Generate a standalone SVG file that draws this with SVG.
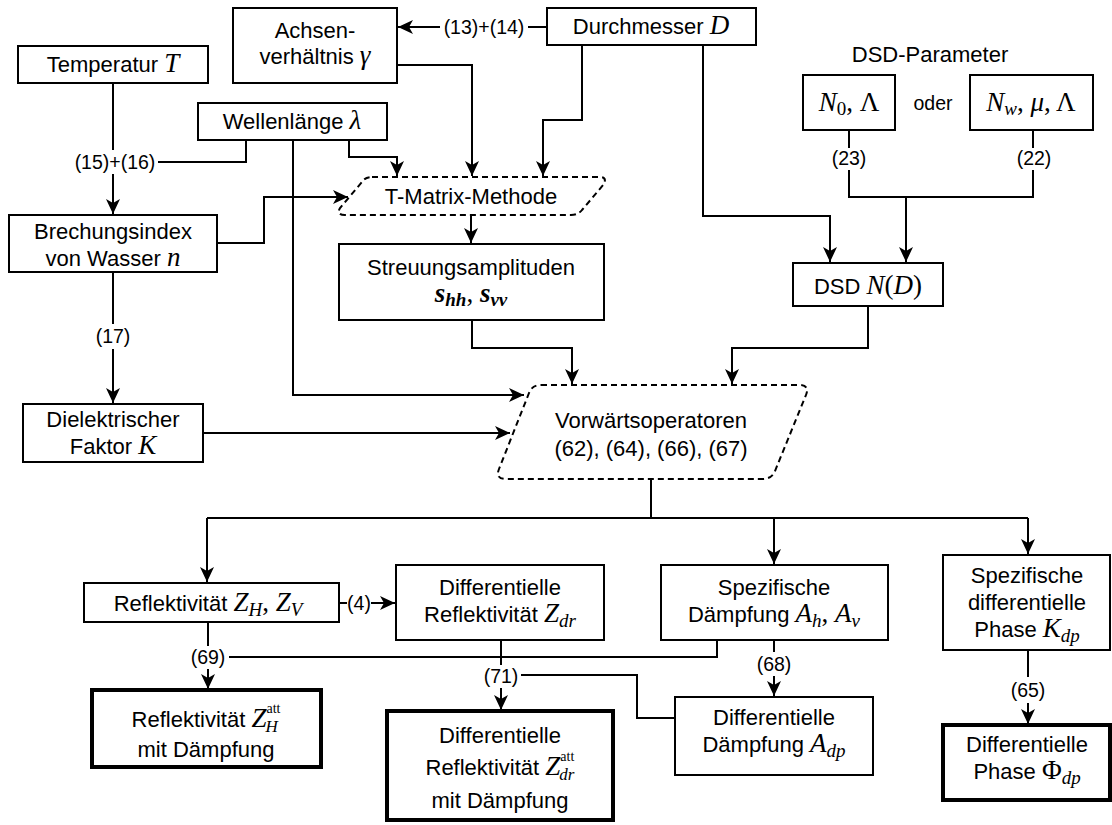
<svg xmlns="http://www.w3.org/2000/svg" width="1112" height="825" viewBox="0 0 1112 825">
<defs>
<marker id="ah" viewBox="-15 -7 16 14" refX="0" refY="0" markerWidth="16" markerHeight="14" markerUnits="userSpaceOnUse" orient="auto">
<path d="M0,0 L-15,-7 L-11,0 L-15,7 Z" fill="#000"/>
</marker>
<style>
.b{fill:#fff;stroke:#000;stroke-width:2}
.k{fill:#fff;stroke:#000;stroke-width:4}
.d{fill:#fff;stroke:#000;stroke-width:2;stroke-dasharray:6 4}
#connectors path{fill:none;stroke:#000;stroke-width:2}
#connectors path.a{marker-end:url(#ah)}
text{font-family:"Liberation Sans",Arial,Helvetica,sans-serif;font-size:22px;text-anchor:middle;fill:#000}
.l{font-size:19.5px}
.m{font-family:"Liberation Serif","Times New Roman",serif;font-style:italic;font-size:27px}
.u{font-family:"Liberation Serif","Times New Roman",serif;font-style:normal;font-size:27px}
.bm{font-family:"Liberation Serif","Times New Roman",serif;font-style:italic;font-weight:bold;font-size:27px}
.s{font-size:19px}
.q{font-size:17px}
.p{font-size:14px}
</style>
</defs>
<rect width="1112" height="825" fill="#fff"/>

<g id="connectors">
<path d="M547,27 H528"/>
<path class="a" d="M440,27 H398"/>
<path class="a" d="M582,45 V120 H543 V176"/>
<path class="a" d="M397,65 H472 V176"/>
<path class="a" d="M349,140 V157 H397 V176"/>
<path d="M246,140 V162 H158"/>
<path d="M113,83 V150"/>
<path class="a" d="M113,174 V214"/>
<path class="a" d="M217,243 H264 V197 H348"/>
<path d="M113,272 V324"/>
<path class="a" d="M113,349 V403"/>
<path class="a" d="M471,215 V243"/>
<path class="a" d="M472,320 V348 H572 V384"/>
<path class="a" d="M293,140 V395 H524"/>
<path class="a" d="M203,433 H510"/>
<path class="a" d="M703,45 V216 H830 V262"/>
<path d="M849,130 V148"/>
<path d="M849,170 V197 H1033 V170"/>
<path d="M1033,148 V130"/>
<path class="a" d="M906,197 V262"/>
<path class="a" d="M868,306 V348 H732 V384"/>
<path d="M651,479 V518"/>
<path d="M207,518 H1028"/>
<path class="a" d="M207,518 V582"/>
<path class="a" d="M774,518 V564"/>
<path class="a" d="M1028,518 V554"/>
<path d="M339,603 H347"/>
<path class="a" d="M371,603 H395"/>
<path d="M208,622 V646"/>
<path class="a" d="M208,669 V689"/>
<path d="M229,657 H717 V640"/>
<path d="M501,640 V665"/>
<path class="a" d="M501,688 V710"/>
<path d="M521,675 H637 V718 H675"/>
<path d="M774,640 V652"/>
<path class="a" d="M774,676 V696"/>
<path d="M1028,650 V677"/>
<path class="a" d="M1028,703 V724"/>
</g>

<g id="labels">
<text class="l" x="484" y="34">(13)+(14)</text>
<text class="l" x="115" y="169">(15)+(16)</text>
<text class="l" x="113" y="343">(17)</text>
<text class="l" x="849" y="165">(23)</text>
<text class="l" x="1034" y="165">(22)</text>
<text class="l" x="359" y="610">(4)</text>
<text class="l" x="208" y="664">(69)</text>
<text class="l" x="501" y="683">(71)</text>
<text class="l" x="774" y="671">(68)</text>
<text class="l" x="1028" y="697">(65)</text>
</g>

<g id="temperatur">
<rect class="b" x="18" y="46" width="190" height="37"/>
<text x="113" y="72">Temperatur <tspan class="m">T</tspan></text>
</g>
<g id="achsen">
<rect class="b" x="233" y="8" width="164" height="75"/>
<text x="315" y="38">Achsen-</text>
<text x="315" y="64">verhältnis <tspan class="m">γ</tspan></text>
</g>
<g id="durchmesser">
<rect class="b" x="547" y="8" width="209" height="37"/>
<text x="651" y="34">Durchmesser <tspan class="m">D</tspan></text>
</g>
<g id="wellenlaenge">
<rect class="b" x="198" y="103" width="189" height="37"/>
<text x="292" y="129">Wellenlänge <tspan class="m">λ</tspan></text>
</g>
<g id="dsd-parameter">
<text x="930" y="62">DSD-Parameter</text>
<text class="l" x="933" y="110">oder</text>
</g>
<g id="n0">
<rect class="b" x="803" y="75" width="92" height="55"/>
<text x="849" y="111"><tspan class="m">N</tspan><tspan class="u s" dy="4">0</tspan><tspan class="u" dy="-4">, Λ</tspan></text>
</g>
<g id="nw">
<rect class="b" x="970" y="75" width="123" height="55"/>
<text x="1031" y="111"><tspan class="m">N</tspan><tspan class="m s" dy="4">w</tspan><tspan class="u" dy="-4">, </tspan><tspan class="m">μ</tspan><tspan class="u">, Λ</tspan></text>
</g>
<g id="dsd">
<rect class="b" x="793" y="263" width="150" height="43"/>
<text x="868" y="294">DSD <tspan class="m">N</tspan><tspan class="u">(</tspan><tspan class="m">D</tspan><tspan class="u">)</tspan></text>
</g>
<g id="tmatrix">
<path class="d" d="M372,177 L600,177 Q607,177 604,184 L582,210 Q578,215 571,215 L345,215 Q336,215 340,208 L362,182 Q365,177 372,177 Z"/>
<text x="471" y="204">T-Matrix-Methode</text>
</g>
<g id="brechungsindex">
<rect class="b" x="9" y="215" width="208" height="57"/>
<text x="113" y="239">Brechungsindex</text>
<text x="113" y="266">von Wasser <tspan class="m">n</tspan></text>
</g>
<g id="streuung">
<rect class="b" x="339" y="244" width="265" height="76"/>
<text x="471" y="275">Streuungsamplituden</text>
<text x="471" y="302"><tspan class="bm">s</tspan><tspan class="bm s" dy="4">hh</tspan><tspan class="u" dy="-4">, </tspan><tspan class="bm">s</tspan><tspan class="bm s" dy="4">vv</tspan></text>
</g>
<g id="dielektrischer">
<rect class="b" x="23" y="404" width="180" height="58"/>
<text x="113" y="427">Dielektrischer</text>
<text x="113" y="454">Faktor <tspan class="m">K</tspan></text>
</g>
<g id="vorwaerts">
<path class="d" d="M541,385 L799,385 Q810,385 806,395 L775,471 Q772,479 762,479 L506,479 Q495,479 499,469 L529,393 Q532,385 541,385 Z"/>
<text x="651" y="428">Vorwärtsoperatoren</text>
<text x="651" y="456">(62), (64), (66), (67)</text>
</g>
<g id="reflektivitaet">
<rect class="b" x="84" y="583" width="255" height="39"/>
<text x="208" y="611">Reflektivität <tspan class="m">Z</tspan><tspan class="m s" dy="5">H</tspan><tspan class="u" dy="-5">, </tspan><tspan class="m">Z</tspan><tspan class="m s" dy="5">V</tspan></text>
</g>
<g id="zdr">
<rect class="b" x="396" y="565" width="208" height="75"/>
<text x="500" y="595">Differentielle</text>
<text x="500" y="622">Reflektivität <tspan class="m">Z</tspan><tspan class="m s" dy="5">dr</tspan></text>
</g>
<g id="spezdaempfung">
<rect class="b" x="661" y="565" width="227" height="75"/>
<text x="774" y="595">Spezifische</text>
<text x="774" y="622">Dämpfung <tspan class="m">A</tspan><tspan class="m s" dy="5">h</tspan><tspan class="u" dy="-5">, </tspan><tspan class="m">A</tspan><tspan class="m s" dy="5">v</tspan></text>
</g>
<g id="kdp">
<rect class="b" x="943" y="555" width="167" height="95"/>
<text x="1027" y="583">Spezifische</text>
<text x="1027" y="610">differentielle</text>
<text x="1027" y="637">Phase <tspan class="m">K</tspan><tspan class="m s" dy="5">dp</tspan></text>
</g>
<g id="zhatt">
<rect class="k" x="92" y="690" width="229" height="77"/>
<text x="206" y="727">Reflektivität <tspan class="m">Z</tspan><tspan class="u p" dy="-14">att</tspan><tspan class="m q" dx="-15" dy="19">H</tspan></text>
<text x="206" y="757">mit Dämpfung</text>
</g>
<g id="zdratt">
<rect class="k" x="387" y="711" width="226" height="109"/>
<text x="500" y="743">Differentielle</text>
<text x="500" y="775">Reflektivität <tspan class="m">Z</tspan><tspan class="u p" dy="-14">att</tspan><tspan class="m q" dx="-15" dy="19">dr</tspan></text>
<text x="500" y="808">mit Dämpfung</text>
</g>
<g id="adp">
<rect class="b" x="675" y="697" width="198" height="78"/>
<text x="774" y="725">Differentielle</text>
<text x="774" y="752">Dämpfung <tspan class="m">A</tspan><tspan class="m s" dy="5">dp</tspan></text>
</g>
<g id="phidp">
<rect class="k" x="943" y="725" width="167" height="75"/>
<text x="1027" y="752">Differentielle</text>
<text x="1027" y="779">Phase <tspan class="u">Φ</tspan><tspan class="m s" dy="5">dp</tspan></text>
</g>
</svg>
